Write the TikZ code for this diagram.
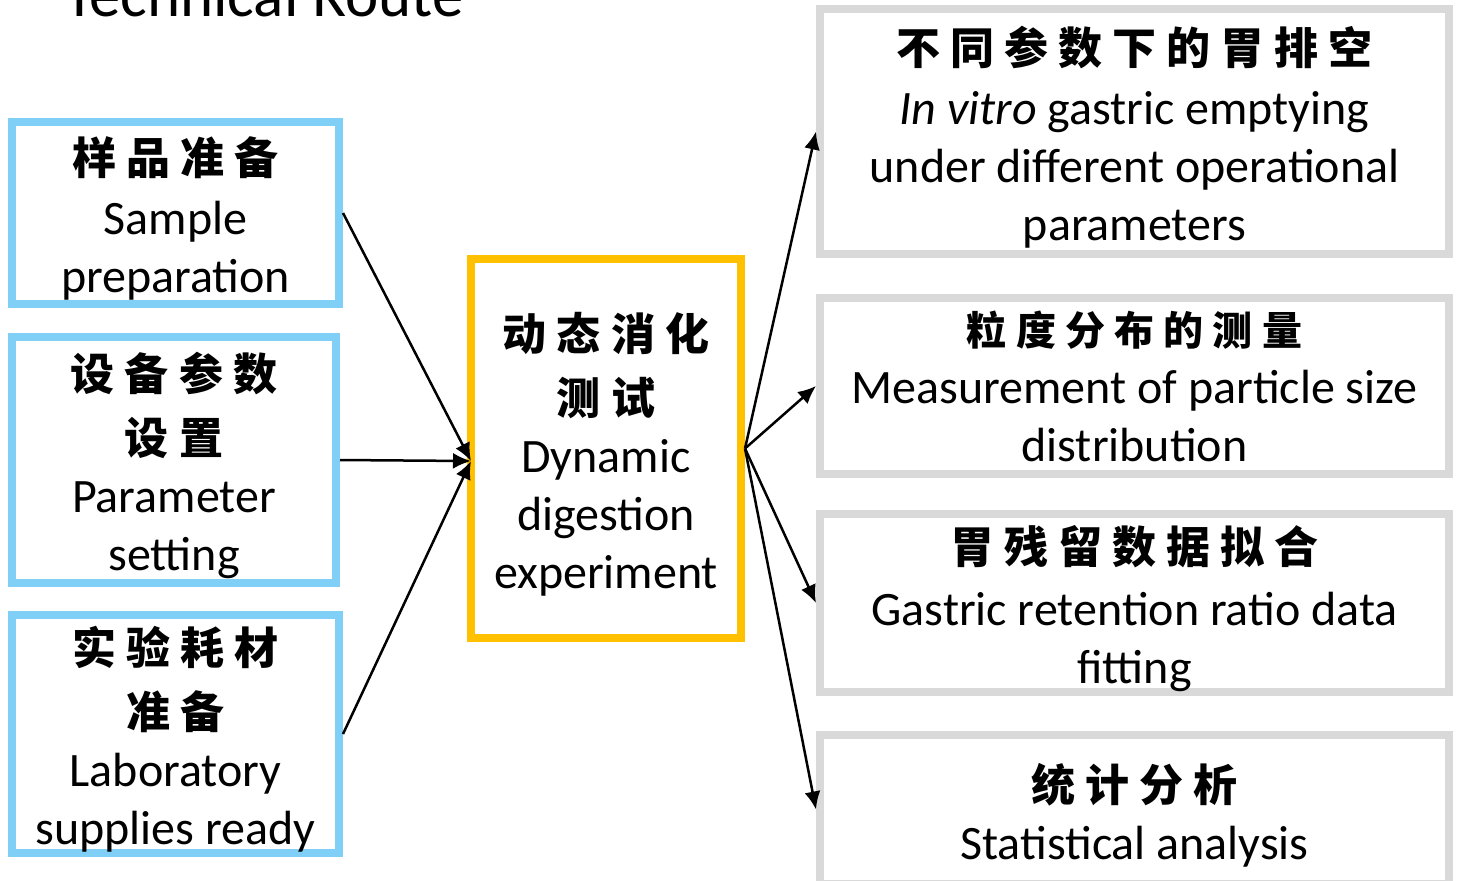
\documentclass[tikz,border=0pt]{standalone}
\usepackage{fontspec}
\setmainfont{Carlito}
\newfontfamily\cjk[LetterSpace=23]{Noto Sans CJK SC}
\usetikzlibrary{arrows.meta}

\definecolor{skyblue}{RGB}{127,207,247}
\definecolor{amber}{RGB}{255,192,0}
\definecolor{boxgray}{RGB}{217,217,217}

\newcommand{\zh}[1]{{\cjk\bfseries\fontsize{22}{25}\selectfont\rule{0pt}{24.4pt}#1}}
\newcommand{\zhs}[1]{{\cjk\bfseries\fontsize{20}{25}\selectfont #1}}

\begin{document}
\begin{tikzpicture}[x=0.5pt,y=-0.5pt,
  box/.style={rectangle,draw,line width=4pt,inner sep=0pt,align=center,
    font=\fontsize{24}{29}\selectfont},
  inbox/.style={box,draw=skyblue},
  midbox/.style={box,draw=amber},
  outbox/.style={box,draw=boxgray,minimum width=314.5pt},
  link/.style={-{Latex[length=9pt,width=8pt]},line width=1.25pt}]
\useasboundingbox (0,0) rectangle (1460,880);

\node (title) at (57,16) [anchor=base west,font=\fontsize{31.5}{36}\selectfont] {Technical Route};

% inputs
\node (sample) at (175.5,213) [inbox,minimum width=163.5pt,minimum height=91pt]
  {\zh{样品准备}\\[1pt] Sample\\ preparation};
\node (param) at (174,460) [inbox,minimum width=162pt,minimum height=123pt]
  {\zh{设备参数}\\[3pt] \zh{设置}\\ Parameter\\ setting};
\node (supply) at (175.5,734) [inbox,minimum width=163.5pt,minimum height=119pt]
  {\zh{实验耗材}\\[3pt] \zh{准备}\\ Laboratory\\ supplies ready};

% experiment
\node (digest) at (606,448.5) [midbox,minimum width=135pt,minimum height=189.5pt]
  {\zh{动态消化}\\[3pt] \zh{测试}\\ Dynamic\\ digestion\\ experiment};
\coordinate (join) at (471,461);

% outputs
\node (empty) at (1134.5,131.5) [outbox,minimum height=122.5pt]
  {\zh{不同参数下的胃排空}\\[1pt] \textit{In vitro} gastric emptying\\ under different operational\\ parameters};
\node (size) at (1134.5,386) [outbox,minimum height=88pt]
  {\zhs{粒度分布的测量}\\ Measurement of particle size\\ distribution};
\node (fit) at (1134.5,603) [outbox,minimum height=86pt]
  {\zh{胃残留数据拟合}\\[2pt] Gastric retention ratio data\\ fitting};
\node (stat) at (1134.5,809.5) [outbox,minimum height=74.5pt]
  {\zh{统计分析}\\[0pt] Statistical analysis};

\draw[link] (sample.east) -- (join);
\draw[link] (param.east) -- (join);
\draw[link] (supply.east) -- (join);

\draw[link] (digest.east) -- (empty.west);
\draw[link] (digest.east) -- (size.west);
\draw[link] (digest.east) -- (fit.west);
\draw[link] (digest.east) -- (stat.west);

\end{tikzpicture}
\end{document}
